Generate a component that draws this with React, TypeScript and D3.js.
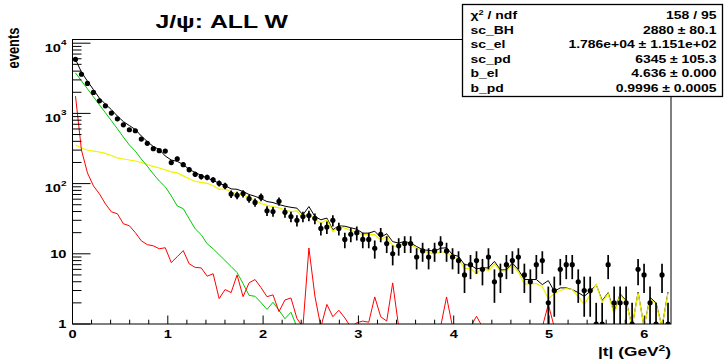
import React from "react";
import * as d3 from "d3";

const W = 728;
const H = 361;
const X_MIN = 0;
const X_MAX = 6.28;
const N_BINS = 100;
const Y_MIN = 1;
const Y_MAX = 11290;

// measured data (events per bin)
const dataCounts = [
  5900, 3610, 2670, 1990, 1510, 1280, 1010, 838, 688, 585,
  566, 431, 375, 314, 294, 291, 199, 226, 186, 158,
  136, 126, 123, 113, 101, 93, 71, 68, 72, 61,
  54, 64, 41, 40, 56, 39, 34, 30, 34, 35,
  32, 23, 24, 30, 23, 16, 19, 20, 16, 16,
  12, 19, 14, 10, 13, 14, 14, 9, 11, 9,
  11, 14, 11, 9, 8, 5, 7, 8, 6, 9,
  4, 5, 7, 8, 9, 5, 4, 7, 8, 2,
  3, 6, 7, 7, 4, 3, 3, 1, 1, 7,
  2, 2, 2, 1, 6, 5, 2, 1, 5, 1,
];

// total fit (black)
const fitTotal = [
  5890, 3860, 2875, 2180, 1650, 1355, 1132, 915, 765, 671,
  589, 476, 397, 337, 306, 247, 217, 207, 187, 159,
  144, 131, 120, 111, 101, 94, 84, 83, 77, 70,
  66, 61, 55.5, 53.7, 50.3, 47.7, 45.9, 44.7, 35.9, 47.1,
  34, 30.5, 32.3, 22, 25, 24.7, 23.5, 22.4, 19.7, 19.7,
  21, 17.1, 19.3, 14.9, 14.2, 15, 14.2, 12.7, 11.4, 11.2,
  10.9, 12, 12.2, 9.7, 9.2, 7, 6.9, 6.1, 6.3, 6.3,
  7.8, 5.9, 5.9, 7.4, 5.9, 4.3, 4.3, 4.3, 3.64, 4.15,
  2.92, 3.27, 3.27, 3.09, 2.8, 2.48, 2.92, 3.64, 2.15, 2.8,
  1.45, 2.7, 2.15, 0, 2.85, 0, 2.4, 2.0, 0, 2.85,
];

// proton-dissociation component (yellow)
const compPD = [
  355, 321, 301, 291, 282, 270, 251, 232, 224, 217,
  210, 200, 187, 176, 167, 157, 147, 142, 129, 117,
  107, 104, 101, 93, 83, 84, 76, 72, 69, 63,
  58, 52, 49, 47, 45, 42, 40, 41, 32.6, 38,
  30.5, 27.4, 30.5, 20.8, 24.5, 23.2, 21.6, 20.1, 18.7, 18.7,
  18.7, 15.9, 17.7, 13, 12.7, 14.5, 13.5, 12.1, 10.8, 10.5,
  9.9, 10.7, 10.4, 9.25, 8.4, 6.2, 6.2, 5.2, 6.4, 5.75,
  7.2, 5.6, 5.75, 6.9, 5.5, 3.7, 3.76, 3.76, 3.4, 2.3,
  2.7, 3.0, 3.2, 3.1, 2.45, 1.9, 2.6, 3.7, 2.05, 2.7,
  1.36, 2.6, 2.05, 0, 2.77, 0, 2.3, 1.92, 0, 2.75,
];

// elastic component (green)
const compEL = [
  3776, 2904, 2239, 1722, 1324, 1021, 785, 604, 460, 355,
  290, 224, 177, 137, 109, 90, 67, 48, 44, 31.5,
  22.7, 18.7, 13.9, 11.8, 9.7, 8.0, 6.6, 5.4, 3.76, 2.56,
  2.48, 2.02, 1.61, 2.04, 1.57, 1.19, 1.47, 0, 0, 0,
  0, 0, 0, 0, 0, 0, 0, 0, 0, 0,
  0, 0, 0, 0, 0, 0, 0, 0, 0, 0,
  0, 0, 0, 0, 0, 0, 0, 0, 0, 0,
  0, 0, 0, 0, 0, 0, 0, 0, 0, 0,
  0, 0, 0, 0, 0, 0, 0, 0, 0, 0,
  0, 0, 0, 0, 0, 0, 0, 0, 0, 0,
];

// Bethe-Heitler component (red)
const compBH = [
  1762, 300, 142, 92.7, 71.4, 51.5, 39.6, 37.2, 26.8, 25.1,
  20, 15.3, 13.5, 13, 11.8, 12.2, 7.5, 9.1, 11.1, 7.2,
  6.4, 6.3, 4.8, 5.2, 2.3, 3.1, 2.8, 5.0, 2.45, 3.85,
  4.3, 3.3, 2.45, 2.6, 1.5, 2.2, 2.35, 1.2, 0, 12.1,
  2.5, 0, 1.9, 1.27, 1.57, 1.22, 0, 1.04, 1.1, 1.06,
  2.43, 1.27, 1.1, 3.85, 0, 0, 0, 0, 0, 0,
  0, 0, 2.43, 0, 0, 0, 0, 1.29, 0, 0,
  0, 0, 0, 0, 0, 0, 0, 0, 0, 1.9,
  0, 0, 0, 0, 0, 0, 0, 0, 0, 0,
  0, 0, 0, 0, 0, 0, 0, 0, 0, 0,
];

const xMajorTicks = [0, 1, 2, 3, 4, 5, 6];
const yDecades = [0, 1, 2, 3, 4];
const statsNames = ["chi2", "sc_BH", "sc_el", "sc_pd", "b_el", "b_pd"];
const statsValues = [
  "158 / 95",
  "2880 \u00b1 80.1",
  "1.786e+04 \u00b1 1.151e+02",
  "6345 \u00b1 105.3",
  "4.636 \u00b1 0.000",
  "0.9996 \u00b1 0.0005",
];

const FONT = "'Liberation Sans', Arial, Helvetica, sans-serif";
const SX = 1.33;

const PL = 72.5, PR = 671, PT = 39.5, PB = 324;

function Txt(props: any) {
  const { x, y, anchor = "start", size = 10.8, rotate, children, sx = SX } = props;
  return (
    <text
      transform={`translate(${x},${y}) scale(${sx},1)${rotate ? ` rotate(${rotate})` : ""}`}
      textAnchor={anchor}
      fontSize={size}
      fontWeight="bold"
      fontFamily={FONT}
      fill="#000"
    >
      {children}
    </text>
  );
}

export default function App() {
  const x = d3.scaleLinear().domain([X_MIN, X_MAX]).range([PL, PR]);
  const y = d3.scaleLog().domain([Y_MIN, Y_MAX]).range([PB, PT]);
  const bw = (X_MAX - X_MIN) / N_BINS;
  const cx = (i: number) => x(X_MIN + (i + 0.5) * bw);
  const yv = (v: number) => (v > 0 ? y(v) : PB + 3);

  const line = d3
    .line<number>()
    .x((_d, i) => cx(i))
    .y((d) => yv(d));

  const xMinor: number[] = [];
  for (let k = 1; k * 0.2 < X_MAX; k++) {
    const t = +(k * 0.2).toFixed(2);
    if (Math.abs(t - Math.round(t)) > 1e-6) xMinor.push(t);
  }
  const yMinor: number[] = [];
  for (const n of yDecades) {
    for (let k = 2; k <= 9; k++) {
      const v = k * Math.pow(10, n);
      if (v < Y_MAX) yMinor.push(v);
    }
  }

  return (
    <svg
      width={W}
      height={H}
      style={{ position: "absolute", left: 0, top: 0, background: "#fff" }}
    >
      <defs>
        <clipPath id="plotclip">
          <rect x={PL} y={PT} width={PR - PL} height={PB - PT} />
        </clipPath>
      </defs>
      <rect x={0} y={0} width={W} height={H} fill="#fff" />

      <g clipPath="url(#plotclip)" fill="none">
        <path d={line(fitTotal) || ""} stroke="#000" strokeWidth={1} />
        <path d={line(compPD) || ""} stroke="#f2f200" strokeWidth={1.2} />
        <path d={line(compEL) || ""} stroke="#00c800" strokeWidth={1} />
        <path d={line(compBH) || ""} stroke="#ff0000" strokeWidth={1} />
        {dataCounts.map((v, i) => {
          const e = Math.sqrt(v);
          const lo = v - e;
          return (
            <line
              key={"e" + i}
              x1={cx(i)}
              x2={cx(i)}
              y1={y(v + e)}
              y2={lo > 0 ? y(lo) : PB + 3}
              stroke="#000"
              strokeWidth={1.7}
            />
          );
        })}
        {dataCounts.map((v, i) => (
          <circle key={"m" + i} cx={cx(i)} cy={y(v)} r={2.6} fill="#000" />
        ))}
      </g>

      {/* frame */}
      <rect x={PL} y={PT} width={PR - PL} height={PB - PT} fill="none" stroke="#000" strokeWidth={1} />

      {/* x ticks */}
      {xMajorTicks.map((t) => (
        <line key={"xM" + t} x1={x(t)} x2={x(t)} y1={PB} y2={PB - 8.5} stroke="#000" strokeWidth={1} />
      ))}
      {xMinor.map((t) => (
        <line key={"xm" + t} x1={x(t)} x2={x(t)} y1={PB} y2={PB - 4.3} stroke="#000" strokeWidth={1} />
      ))}
      {xMajorTicks.map((t) => (
        <Txt key={"xl" + t} x={x(t)} y={337.5} anchor="middle" size={11}>
          {String(t)}
        </Txt>
      ))}

      {/* y ticks */}
      {yDecades.map((n) => (
        <line key={"yM" + n} x1={PL} x2={PL + 18} y1={y(Math.pow(10, n))} y2={y(Math.pow(10, n))} stroke="#000" strokeWidth={1} />
      ))}
      {yMinor.map((v) => (
        <line key={"ym" + v} x1={PL} x2={PL + 9} y1={y(v)} y2={y(v)} stroke="#000" strokeWidth={1} />
      ))}
      {yDecades.map((n) => {
        const ty = y(Math.pow(10, n));
        if (n === 0) return <Txt key={"yl" + n} x={66.5} y={ty + 3.8} anchor="end" size={11}>1</Txt>;
        if (n === 1) return <Txt key={"yl" + n} x={66.5} y={ty + 4} anchor="end" size={11}>10</Txt>;
        return (
          <Txt key={"yl" + n} x={66.5} y={ty + 8.5} anchor="end" size={11}>
            <tspan>10</tspan>
            <tspan dy={-6.5} fontSize={7.5}>{String(n)}</tspan>
          </Txt>
        );
      })}

      {/* axis titles */}
      <Txt x={19} y={48} anchor="middle" size={13} rotate={-90}>events</Txt>
      <Txt x={671} y={356} anchor="end" size={13}>
        <tspan>|t| (GeV</tspan>
        <tspan dy={-5} fontSize={9}>2</tspan>
        <tspan dy={5}>)</tspan>
      </Txt>

      {/* title */}
      <Txt x={221.7} y={28} anchor="middle" size={18.8} sx={1.32}>J/ψ: ALL W</Txt>

      {/* stats box */}
      <rect x={462.5} y={4.5} width={260} height={92} fill="#fff" stroke="#000" strokeWidth={1.3} />
      {statsNames.map((nm, i) => {
        const by = 19 + 14.6 * i;
        return (
          <g key={"s" + i}>
            {nm === "chi2" ? (
              <Txt x={470.5} y={by} size={10.5}>
                <tspan>χ</tspan>
                <tspan dy={-4} fontSize={7}>2</tspan>
                <tspan dy={4}> / ndf</tspan>
              </Txt>
            ) : (
              <Txt x={470.5} y={by} size={10.5}>{nm}</Txt>
            )}
            <Txt x={716.5} y={by} anchor="end" size={10.5}>{statsValues[i]}</Txt>
          </g>
        );
      })}
    </svg>
  );
}
